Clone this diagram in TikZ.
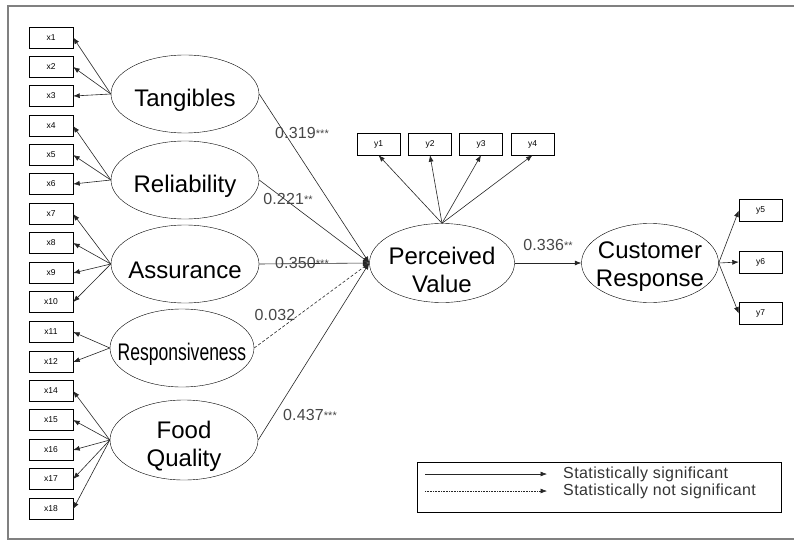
\documentclass[tikz,border=0pt]{standalone}
\usepackage{fontspec}
\setmainfont{Liberation Sans}
\usetikzlibrary{shapes.geometric,arrows.meta}
\newcommand{\sgn}[1]{{\fontsize{11}{11}\selectfont\raisebox{1pt}{#1}}}
\begin{document}
\begin{tikzpicture}[x=1pt,y=-1pt,
  lat/.style={draw, ellipse, minimum width=148pt, minimum height=78pt, inner sep=0pt},
  txt/.style={font=\fontsize{24}{28}\selectfont, align=center, inner sep=0pt, yshift=-6pt},
  obs/.style={draw, minimum width=44pt, minimum height=21pt, inner sep=0pt,
    font=\fontsize{8.5}{10}\selectfont},
  obsy/.style={obs, minimum width=43pt, minimum height=22pt},
  arr/.style={-{Latex[length=6.5pt,width=5pt]}, line width=0.6pt, draw=black!85},
  coef/.style={font=\fontsize{16}{18}\selectfont\addfontfeature{LetterSpace=1}, text=black!72, inner sep=0pt},
  legtext/.style={font=\fontsize{16}{18}\selectfont\addfontfeature{LetterSpace=2.5}, text=black!80, inner sep=0pt, anchor=west},
]
\useasboundingbox (0,0) rectangle (794,540);
\draw[black!50, line width=1.5pt] (8,6) rectangle (796,539);

% observed indicators (left)
\foreach \n/\y in {1/37.5, 2/67, 3/96, 4/126, 5/155, 6/184, 7/214, 8/243, 9/273,
  10/302, 11/332, 12/362, 14/391, 15/420, 16/450, 17/479, 18/509}
  \node[obs] (x\n) at (51,\y) {x\n};

% latent constructs
\node[lat, label={[txt]center:Tangibles}] (tang) at (185,94) {};
\node[lat, label={[txt]center:Reliability}] (reli) at (185,180) {};
\node[lat, label={[txt]center:Assurance}] (assu) at (185,264) {};
\node[lat, minimum width=144pt, label={[txt]center:{\scalebox{0.73}[1]{Responsiveness}}}] (resp) at (182,348) {};
\node[lat, minimum height=80pt, label={[txt]center:{Food\\Quality}}] (food) at (184,440) {};
\node[lat, minimum width=145pt, minimum height=79pt, label={[txt, yshift=-1pt]center:{Perceived\\Value}}] (pv) at (442,263) {};
\node[lat, minimum width=137pt, minimum height=79pt, label={[txt, yshift=2pt]center:{Customer\\Response}}] (cr) at (650,263) {};

% y indicators
\node[obsy] (y1) at (378.5,144) {y1};
\node[obsy] (y2) at (430,144) {y2};
\node[obsy] (y3) at (481,144) {y3};
\node[obsy] (y4) at (532.5,144) {y4};
\node[obsy] (y5) at (760.5,210.5) {y5};
\node[obsy] (y6) at (760.5,262) {y6};
\node[obsy] (y7) at (760.5,313.5) {y7};

% measurement arrows
\foreach \t in {1,2,3} \draw[arr] (tang.west) -- (x\t.east);
\foreach \t in {4,5,6} \draw[arr] (reli.west) -- (x\t.east);
\foreach \t in {7,8,9,10} \draw[arr] (assu.west) -- (x\t.east);
\foreach \t in {11,12} \draw[arr] (resp.west) -- (x\t.east);
\foreach \t in {14,15,16,17,18} \draw[arr] (food.west) -- (x\t.east);
\foreach \t in {1,2,3,4} \draw[arr] (pv.north) -- (y\t.south);
\foreach \t in {5,6,7} \draw[arr] (cr.east) -- (y\t.west);

% structural paths
\draw[arr] (tang.east) -- (pv.west);
\draw[arr] (reli.east) -- (pv.west);
\draw[arr] (assu.east) -- (pv.west);
\draw[arr, dash pattern=on 3pt off 2pt] (resp.east) -- (pv.west);
\draw[arr] (food.east) -- (pv.west);
\draw[arr] (pv) -- (cr);

% coefficients
\node[coef] (c1) at (302,133) {0.319\sgn{***}};
\node[coef] (c2) at (288,199) {0.221\sgn{**}};
\node[coef] (c3) at (302,263) {0.350\sgn{***}};
\node[coef] (c4) at (275,315) {0.032};
\node[coef] (c5) at (310,415) {0.437\sgn{***}};
\node[coef] (c6) at (548,245) {0.336\sgn{**}};

% legend
\node[draw, minimum width=364pt, minimum height=50pt, inner sep=0pt, line width=0.6pt] (leg) at (599,487) {};
\coordinate (l1a) at (425,474);
\coordinate (l1b) at (547,474);
\coordinate (l2a) at (425,491);
\coordinate (l2b) at (547,491);
\draw[arr] (l1a) -- (l1b);
\draw[arr, densely dotted] (l2a) -- (l2b);
\node[legtext] (t1) at (563,474) {Statistically significant};
\node[legtext] (t2) at (563,491) {Statistically not significant};
\end{tikzpicture}
\end{document}
